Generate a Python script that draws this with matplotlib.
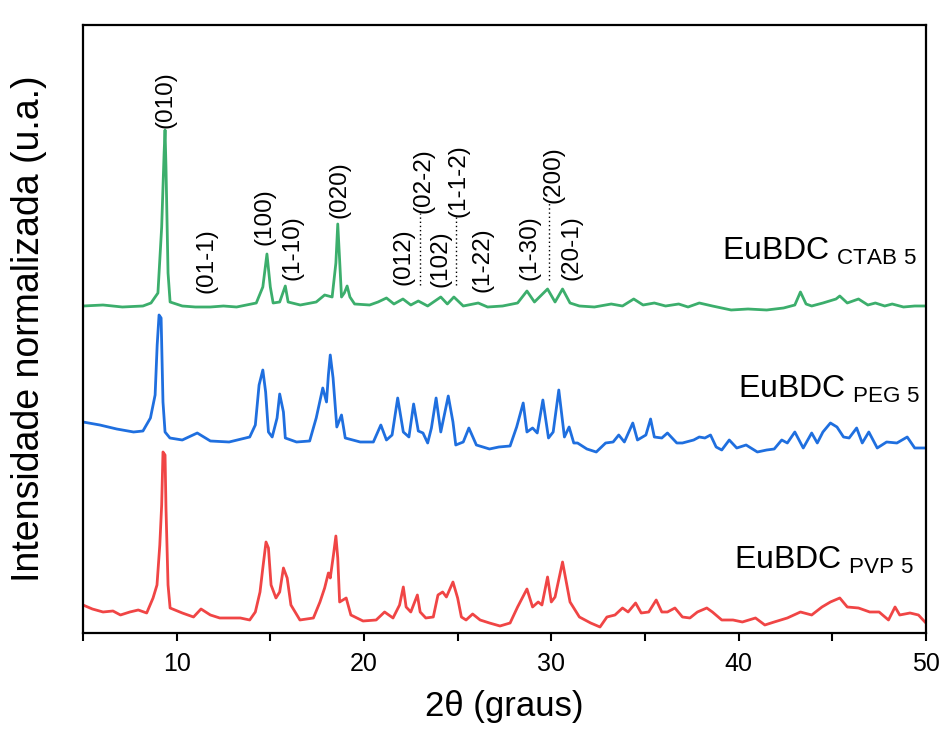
import numpy as np
import matplotlib
matplotlib.use("Agg")
import matplotlib.pyplot as plt
from matplotlib.ticker import MultipleLocator

plt.rcParams['font.family'] = ['Liberation Sans', 'DejaVu Sans']
plt.rcParams['mathtext.fontset'] = 'custom'
plt.rcParams['mathtext.rm'] = 'Liberation Sans'

# EuBDC CTAB 5 (2theta, intensity u.a., already offset)
ctab_x = [5.0, 6.07, 7.1, 8.2, 8.63, 9.0, 9.1, 9.2, 9.33, 9.38, 9.43, 9.54, 9.65, 10.3, 11.0,
          11.8, 12.5, 13.2, 14.25, 14.6, 14.82, 15.0, 15.15, 15.5, 15.8, 15.95, 16.6, 17.45,
          17.9, 18.3, 18.5, 18.6, 18.7, 18.8, 18.95, 19.1, 19.25, 19.5, 20.3, 20.75, 21.2,
          21.6, 22.08, 22.5, 22.9, 23.4, 24.1, 24.45, 24.8, 25.3, 26.1, 26.6, 27.4, 28.2,
          28.7, 29.1, 29.8, 30.2, 30.6, 31.0, 31.5, 32.3, 33.2, 33.8, 34.4, 34.9, 35.5, 36.1,
          36.8, 37.3, 37.9, 38.6, 39.6, 40.5, 41.5, 42.4, 43.0, 43.3, 43.6, 43.9, 44.5, 45.2,
          45.4, 45.8, 46.4, 46.9, 47.3, 47.8, 48.2, 48.8, 49.4, 49.9]
ctab_y = [327, 328, 326, 327, 330, 340, 373, 406, 480, 503, 466, 360, 331, 327, 326,
          326, 327, 326, 330, 346, 379, 346, 330, 331, 347, 331, 328, 331,
          338, 336, 370, 409, 373, 336, 340, 347, 336, 329, 328, 331, 335,
          329, 334, 328, 332, 327, 336, 329, 336, 327, 330, 326, 327, 330,
          342, 331, 344, 331, 344, 330, 327, 326, 329, 327, 334, 328, 330, 327,
          329, 326, 330, 327, 323, 324, 323, 325, 328, 341, 329, 327, 330, 334,
          337, 330, 334, 328, 330, 327, 329, 326, 327, 327]

# EuBDC PEG 5
peg_x = [5.0, 5.9, 6.8, 7.7, 8.2, 8.6, 8.85, 8.96, 9.06, 9.17, 9.27, 9.38, 9.64, 10.3, 11.1,
         11.8, 12.8, 13.9, 14.2, 14.4, 14.6, 14.75, 14.9, 15.1, 15.36, 15.5, 15.7, 15.8, 16.4,
         17.1, 17.45, 17.8, 18.0, 18.1, 18.2, 18.35, 18.55, 18.8, 19.0, 19.8, 20.5, 20.9,
         21.2, 21.5, 21.8, 22.1, 22.4, 22.65, 22.9, 23.15, 23.4, 23.6, 23.85, 24.1, 24.5,
         24.75, 24.9, 25.3, 25.6, 26.0, 26.7, 27.2, 27.8, 28.15, 28.5, 28.7, 29.0, 29.25,
         29.55, 29.85, 30.1, 30.4, 30.7, 30.95, 31.2, 31.4, 31.9, 32.4, 32.9, 33.3, 33.6,
         33.9, 34.35, 34.6, 35.05, 35.3, 35.5, 35.9, 36.2, 36.7, 37.0, 37.6, 37.9, 38.2,
         38.5, 38.8, 39.1, 39.5, 39.9, 40.4, 41.0, 41.5, 41.9, 42.3, 42.6, 43.0, 43.45, 43.9,
         44.2, 44.5, 44.9, 45.25, 45.6, 45.9, 46.3, 46.6, 46.95, 47.4, 47.9, 48.45, 49.0,
         49.4, 50.0]
peg_y = [211, 208, 204, 201, 202, 215, 238, 288, 318, 315, 231, 201, 195, 193, 200,
         192, 191, 196, 208, 248, 263, 241, 201, 196, 215, 239, 221, 195, 191,
         192, 215, 245, 231, 258, 278, 255, 206, 218, 195, 191, 191, 208,
         193, 198, 235, 201, 196, 229, 202, 200, 190, 205, 235, 201, 237,
         211, 188, 191, 205, 188, 184, 186, 187, 206, 230, 201, 205, 200,
         233, 195, 201, 243, 196, 206, 190, 190, 184, 181, 190, 191, 198,
         191, 210, 193, 198, 214, 196, 195, 200, 190, 190, 193, 196, 195,
         198, 186, 183, 193, 185, 188, 181, 183, 184, 193, 190, 201, 185, 200,
         190, 201, 210, 206, 196, 195, 205, 190, 201, 185, 191, 190, 196,
         185, 185]

# EuBDC PVP 5
pvp_x = [5.0, 5.5, 6.07, 6.6, 7.0, 7.5, 7.95, 8.4, 8.74, 8.95, 9.1, 9.2, 9.27, 9.38, 9.43,
         9.54, 9.65, 10.3, 10.9, 11.3, 11.8, 12.3, 12.85, 13.4, 13.9, 14.2, 14.45, 14.6,
         14.77, 14.9, 15.04, 15.3, 15.5, 15.7, 15.9, 16.1, 16.58, 17.3, 17.65, 17.9, 18.1,
         18.2, 18.37, 18.5, 18.6, 18.7, 19.05, 19.3, 19.95, 20.65, 21.1, 21.55, 21.9, 22.1,
         22.25, 22.5, 22.85, 23.0, 23.3, 23.7, 23.95, 24.2, 24.4, 24.75, 25.0, 25.2, 25.45,
         25.8, 26.2, 26.7, 27.26, 27.8, 28.2, 28.7, 29.0, 29.3, 29.5, 29.8, 30.0, 30.2, 30.6,
         31.0, 31.5, 32.1, 32.6, 32.97, 33.4, 33.8, 34.1, 34.5, 34.8, 35.2, 35.6, 35.9, 36.2,
         36.6, 37.0, 37.4, 37.8, 38.3, 38.6, 39.1, 39.7, 40.2, 40.9, 41.4, 41.9, 42.6, 43.3,
         43.9, 44.45, 44.9, 45.4, 45.8, 46.4, 47.0, 47.5, 48.0, 48.35, 48.6, 49.15, 49.6,
         49.95]
pvp_y = [28, 24, 21, 22, 18, 21, 23, 20, 35, 48, 88, 128, 181, 178, 125,
         48, 25, 20, 16, 24, 18, 15, 15, 15, 13, 21, 41, 65,
         91, 85, 48, 35, 41, 65, 55, 28, 13, 15, 31, 45, 60,
         55, 78, 97, 75, 31, 35, 18, 12, 13, 21, 15, 28, 46,
         26, 21, 38, 21, 15, 16, 38, 41, 36, 51, 35, 16, 13,
         19, 13, 10, 7, 10, 26, 44, 26, 31, 28, 56, 31, 36, 71,
         31, 16, 10, 6, 16, 18, 25, 21, 30, 20, 21, 33, 21, 21,
         25, 16, 15, 21, 25, 21, 13, 13, 11, 15, 8, 11, 15, 21,
         18, 26, 31, 35, 26, 25, 21, 21, 13, 26, 18, 20, 18,
         11]

# Miller indices: label, 2theta, bottom of label
hkl_labels = ['(010)', '(01-1)', '(100)', '(1-10)', '(020)', '(012)', '(02-2)', '(102)',
              '(1-1-2)', '(1-22)', '(1-30)', '(200)', '(20-1)']
hkl_pos = [9.4, 11.6, 14.7, 16.2, 18.7, 22.1, 23.17, 24.06, 25.07, 26.35, 28.86, 30.1, 31.1]
hkl_y = [505, 340, 388, 353, 415, 348, 420, 346, 416, 341, 353, 430, 353]

# dotted guide lines: 2theta, y from, y to
guide_x = [23.0, 24.9, 29.9]
guide_y0 = [348, 348, 353]
guide_y1 = [420, 416, 430]

fig = plt.figure(figsize=(9.41, 7.29), dpi=100)
ax = fig.add_axes([0.0882, 0.1317, 0.8958, 0.834])

ax.plot(ctab_x, ctab_y, color='#3cae6c', lw=2)
ax.plot(peg_x, peg_y, color='#1f6fdf', lw=2)
ax.plot(pvp_x, pvp_y, color='#f04545', lw=2)

for lab, x, y in zip(hkl_labels, hkl_pos, hkl_y):
    ax.text(x, y, lab, rotation=90, ha='center', va='bottom', fontsize=17.5)
for x, y0, y1 in zip(guide_x, guide_y0, guide_y1):
    ax.plot([x, x], [y0, y1], color='black', lw=1, ls=(0, (1, 2)))

ax.text(49.52, 373, r'EuBDC$_{\mathrm{\ CTAB\ 5}}$', ha='right', va='baseline', fontsize=23)
ax.text(49.73, 235, r'EuBDC$_{\mathrm{\ PEG\ 5}}$', ha='right', va='baseline', fontsize=23)
ax.text(49.36, 64, r'EuBDC$_{\mathrm{\ PVP\ 5}}$', ha='right', va='baseline', fontsize=23)

ax.set_xlim(5, 50)
ax.set_ylim(0, 608)
ax.xaxis.set_major_locator(MultipleLocator(10))
ax.xaxis.set_minor_locator(MultipleLocator(5))
ax.tick_params(axis='x', which='both', direction='out', length=6, width=1.5, labelsize=18, pad=8)
ax.set_yticks([])
for s in ax.spines.values():
    s.set_linewidth(1.6)

ax.set_xlabel('2θ (graus)', fontsize=25)
ax.xaxis.set_label_coords(0.5, -0.093)
ax.xaxis.label.set_va('top')
ax.set_ylabel('Intensidade normalizada (u.a.)', fontsize=27)
ax.yaxis.set_label_coords(-0.043, 0.5)

fig.savefig('out.png', dpi=100)
